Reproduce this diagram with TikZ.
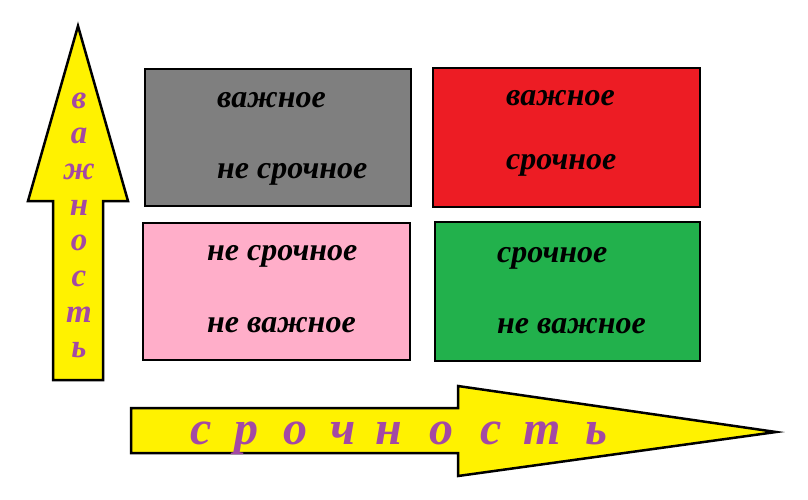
\documentclass[tikz,border=0pt]{standalone}
\usepackage{fontspec}
\setmainfont{Liberation Serif}
\definecolor{ygold}{HTML}{FFF200}
\definecolor{lilac}{HTML}{A349A4}
\definecolor{boxgray}{HTML}{7F7F7F}
\definecolor{boxred}{HTML}{ED1C24}
\definecolor{boxpink}{HTML}{FFAEC9}
\definecolor{boxgreen}{HTML}{22B14C}
\tikzset{
  quad/.style={draw=black, line width=2pt},
  bigarrow/.style={draw=black, fill=ygold, line width=2.5pt, line join=miter},
  boxtext/.style={anchor=base west, inner sep=0pt, font=\fontsize{32}{34}\selectfont\bfseries\itshape, text=black},
  vletter/.style={anchor=base, inner sep=0pt, font=\fontsize{33}{35}\selectfont\bfseries\itshape, text=lilac},
  hletter/.style={anchor=base, inner sep=0pt, font=\fontsize{48}{50}\selectfont\bfseries\itshape, text=lilac}
}
\begin{document}
\begin{tikzpicture}[x=1pt,y=-1pt]
\useasboundingbox (0,0) rectangle (808,499);
\fill[white] (0,0) rectangle (808,499);
% boxes
\draw[quad, fill=boxgray] (145,69) rectangle (411,206);
\draw[quad, fill=boxred] (433,68) rectangle (700,207);
\draw[quad, fill=boxpink] (143,223) rectangle (410,360);
\draw[quad, fill=boxgreen] (435,222) rectangle (700,361);
% box texts
\node[boxtext] (g1) at (217,107) {важное};
\node[boxtext] (g2) at (217,178) {не срочное};
\node[boxtext] (r1) at (506,105) {важное};
\node[boxtext] (r2) at (506,169) {срочное};
\node[boxtext] (p1) at (207,260) {не срочное};
\node[boxtext] (p2) at (207,332) {не важное};
\node[boxtext] (e1) at (497,262) {срочное};
\node[boxtext] (e2) at (497,333) {не важное};
% vertical arrow
\draw[bigarrow] (53,380) -- (53,201) -- (28,201) -- (78,26) -- (128,201) -- (103,201) -- (103,380) -- cycle;
\foreach \ch [count=\i from 0] in {в,а,ж,н,о,с,т,ь}{
  \node[vletter] (v\i) at (79,108+35.7*\i) {\ch};
}
% horizontal arrow
\draw[bigarrow] (131,408) -- (458,408) -- (458,386) -- (776,432) -- (458,476) -- (458,453) -- (131,453) -- cycle;
\foreach \ch/\xx [count=\i from 0] in {с/201,р/246,о/295,ч/343,н/389,о/441,с/491,т/542,ь/596}{
  \node[hletter] (h\i) at (\xx,444) {\ch};
}
\end{tikzpicture}
\end{document}
